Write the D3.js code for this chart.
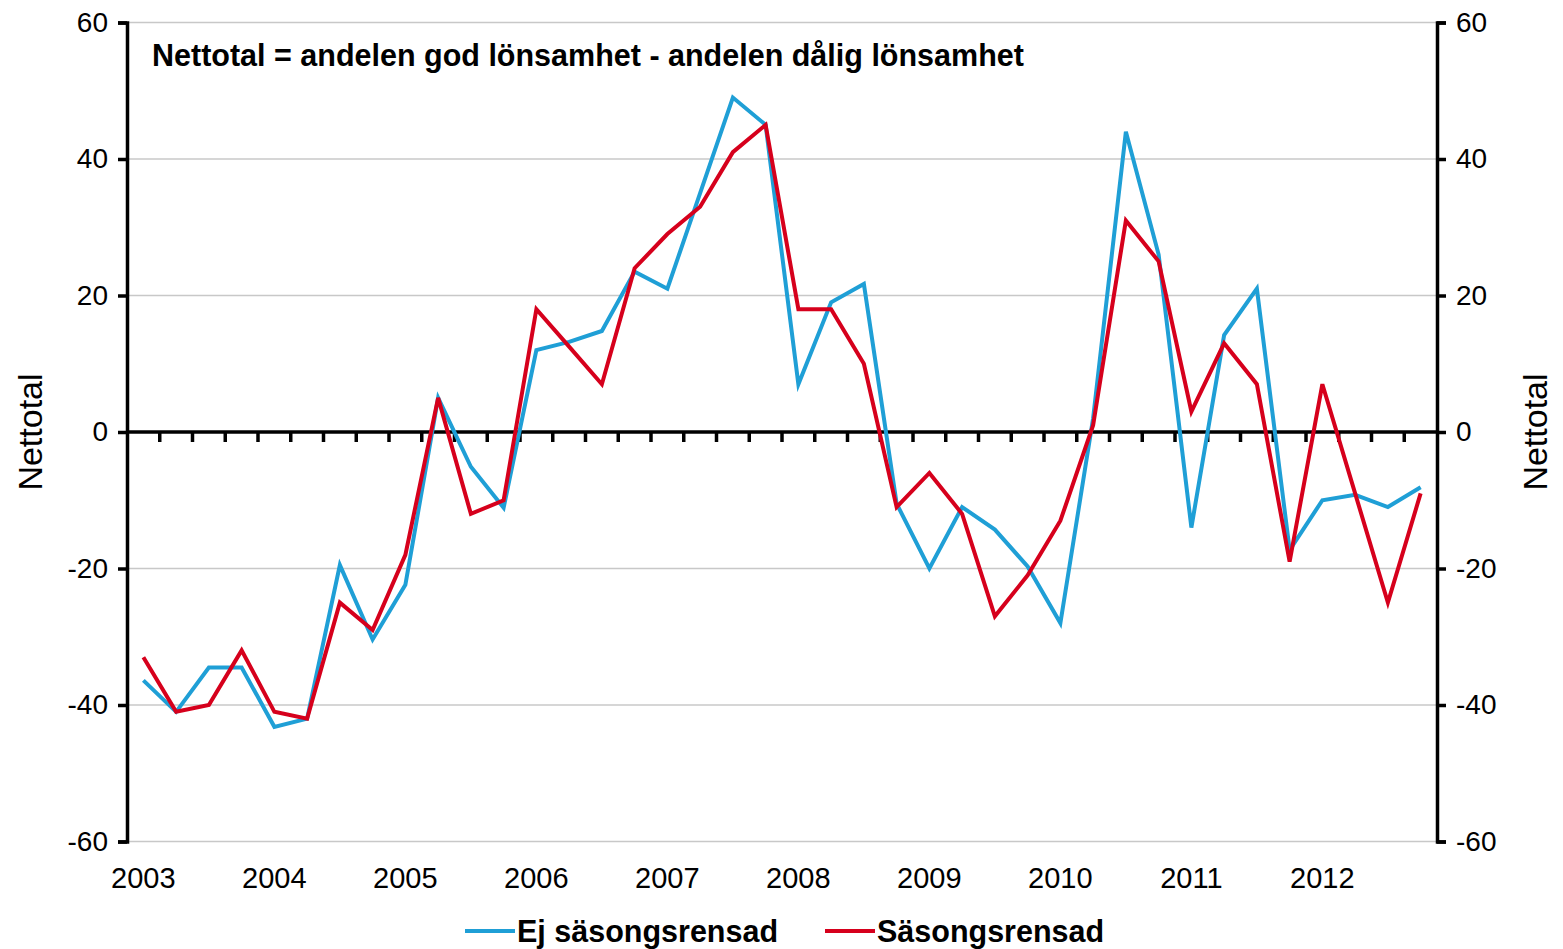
<!DOCTYPE html>
<html>
<head>
<meta charset="utf-8">
<script src="https://cdn.jsdelivr.net/npm/d3@7"></script>
<style>
  body { margin: 0; background: #fff; }
  svg { font-family: "Liberation Sans", Arial, sans-serif; }
</style>
</head>
<body>
<svg width="1563" height="949"></svg>
<script>
// kvartal 2003-2012
var years = [2003, 2004, 2005, 2006, 2007, 2008, 2009, 2010, 2011, 2012];
var quarters = years.flatMap(y => ["K1", "K2", "K3", "K4"].map(k => y + k));

// Ej säsongsrensad
var rawSeries = [-36.4, -41, -34.5, -34.5, -43.2, -42, -19.5, -30.4, -22.4, 5,
                 -5.1, -11.1, 12, 13.2, 14.8, 23.5, 21, 35, 49, 45,
                 7, 19, 21.7, -10.5, -20, -11, -14.3, -19.7, -28, 2,
                 44, 26, -14, 14.2, 21, -17.3, -10, -9.2, -11, -8.1];
// Säsongsrensad
var adjSeries = [-33, -41, -40, -32, -41, -42, -25, -29, -18, 5,
                 -12, -10, 18, 12.5, 7, 24, 29, 33, 41, 45,
                 18, 18, 10, -11, -6, -12, -27, -21, -13, 1,
                 31, 25, 3, 13, 7, -19, 7, -9, -25, -9];

var yTicks = [-60, -40, -20, 0, 20, 40, 60];

var plotLeft = 127, plotRight = 1437, plotTop = 22.5, plotBottom = 841.5;

var svg = d3.select("svg");

var xScale = d3.scaleBand()
            .domain(quarters)
            .range([plotLeft, plotRight])
            .padding(0);
var xMid = d => xScale(d) + xScale.bandwidth() / 2;

var yScale = d3.scaleLinear()
            .domain([-60, 60])
            .range([plotBottom, plotTop]);

//rutnät
svg.append("g")
    .selectAll("line")
    .data(yTicks.filter(d => d !== 0))
    .enter()
    .append("line")
        .attr("x1", plotLeft)
        .attr("x2", plotRight)
        .attr("y1", d => yScale(d))
        .attr("y2", d => yScale(d))
        .attr("stroke", "#c8c8c8")
        .attr("stroke-width", 1.5);

//vänster och höger axel, vanligt bindestreck som minustecken
var yAxisL = d3.axisLeft(yScale).tickValues(yTicks).tickSize(9).tickPadding(10)
            .tickFormat(d => String(d));
var gL = svg.append("g")
    .attr("transform", "translate(" + plotLeft + ",0)")
    .call(yAxisL);

var yAxisR = d3.axisRight(yScale).tickValues(yTicks).tickSize(9).tickPadding(10)
            .tickFormat(d => String(d));
var gR = svg.append("g")
    .attr("transform", "translate(" + plotRight + ",0)")
    .call(yAxisR);

[gL, gR].forEach(g => {
    g.select(".domain").attr("stroke", "#000").attr("stroke-width", 3.5);
    g.selectAll(".tick line").attr("stroke", "#000").attr("stroke-width", 3.5);
    g.selectAll(".tick text")
        .style("font-size", "28px")
        .attr("fill", "#000");
});

//nollinje med kvartalsstreck
var zeroY = yScale(0);
svg.append("g")
    .selectAll("line")
    .data(quarters.slice(1))
    .enter()
    .append("line")
        .attr("x1", d => xScale(d))
        .attr("x2", d => xScale(d))
        .attr("y1", zeroY)
        .attr("y2", zeroY + 10)
        .attr("stroke", "#000")
        .attr("stroke-width", 3.5);

svg.append("line")
    .attr("x1", plotLeft)
    .attr("x2", plotRight)
    .attr("y1", zeroY)
    .attr("y2", zeroY)
    .attr("stroke", "#000")
    .attr("stroke-width", 3.5);

//årtal
svg.append("g")
    .selectAll("text")
    .data(years)
    .enter()
    .append("text")
        .attr("x", d => xMid(d + "K1"))
        .attr("y", plotBottom + 46)
        .style("text-anchor", "middle")
        .style("font-size", "29px")
        .text(d => d);

//linjer
var line = d3.line()
    .x((d, i) => xMid(quarters[i]))
    .y(d => yScale(d));

svg.append("path")
    .datum(rawSeries)
    .attr("d", line)
    .attr("fill", "none")
    .attr("stroke", "#1f9fd6")
    .attr("stroke-width", 4)
    .attr("stroke-linejoin", "miter");

svg.append("path")
    .datum(adjSeries)
    .attr("d", line)
    .attr("fill", "none")
    .attr("stroke", "#d6001c")
    .attr("stroke-width", 4)
    .attr("stroke-linejoin", "miter");

//rubrik
svg.append("text")
    .attr("x", 152)
    .attr("y", 66)
    .style("font-size", "30.5px")
    .style("font-weight", "bold")
    .text("Nettotal = andelen god lönsamhet - andelen dålig lönsamhet");

//axeltitlar
svg.append("text")
    .attr("transform", "translate(42," + zeroY + ") rotate(-90)")
    .style("text-anchor", "middle")
    .style("font-size", "34px")
    .text("Nettotal");

svg.append("text")
    .attr("transform", "translate(1547," + zeroY + ") rotate(-90)")
    .style("text-anchor", "middle")
    .style("font-size", "34px")
    .text("Nettotal");

//förklaring
var legend = [
    {name: "Ej säsongsrensad", color: "#1f9fd6", x: 465},
    {name: "Säsongsrensad", color: "#d6001c", x: 825}
];
var lg = svg.append("g")
    .selectAll("g")
    .data(legend)
    .enter()
    .append("g")
        .attr("transform", d => "translate(" + d.x + ",931)");
lg.append("line")
    .attr("x1", 0).attr("x2", 50)
    .attr("y1", 0).attr("y2", 0)
    .attr("stroke", d => d.color)
    .attr("stroke-width", 4);
lg.append("text")
    .attr("x", 52)
    .attr("y", 11)
    .style("font-size", "30.5px")
    .style("font-weight", "bold")
    .text(d => d.name);
</script>
</body>
</html>
